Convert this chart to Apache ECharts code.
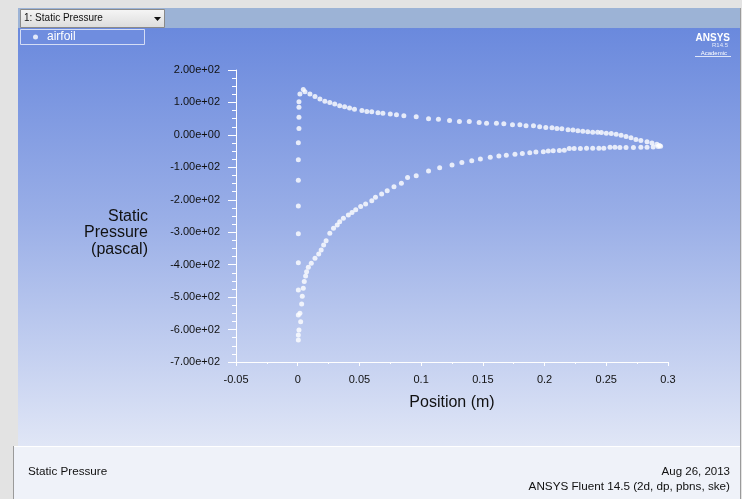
<!DOCTYPE html>
<html>
<head>
<meta charset="utf-8">
<title>Static Pressure</title>
<script src="https://cdn.jsdelivr.net/npm/echarts@6/dist/echarts.min.js"></script>
<style>
  html, body { margin: 0; padding: 0; background: #e6e6e6; }
  #chart { width: 742px; height: 499px; }
</style>
</head>
<body>
<div id="chart"></div>
<script>
// leading edge column (x ~ 0)
const nosePos = [0.001, 0.001, 0.001, 0.001, 0.0005, 0.0005, 0.0005, 0.0005, 0.0005, 0.0005, 0.0005, 0.0005, 0.0005]
const noseP = [102, 85, 54, 20, -24, -77, -140, -219, -305, -394, -478, -555, -632]

// upper branch, peak to trailing edge
const upperPos = [0.0018, 0.0045, 0.0059, 0.0099, 0.014, 0.018, 0.022, 0.026, 0.030, 0.034, 0.038, 0.042, 0.046, 0.052,
  0.056, 0.060, 0.065, 0.069, 0.075, 0.080, 0.086, 0.096, 0.106, 0.114, 0.123, 0.131, 0.139, 0.147, 0.153, 0.161,
  0.167, 0.174, 0.180, 0.185, 0.191, 0.196, 0.201, 0.206, 0.210, 0.214, 0.219, 0.223, 0.227, 0.231, 0.235, 0.239,
  0.243, 0.246, 0.250, 0.254, 0.258, 0.262, 0.266, 0.270, 0.274, 0.278, 0.283, 0.287, 0.291, 0.293, 0.294]
const upperP = [126, 140, 133, 126, 118, 111, 104, 100, 95, 90, 87, 83, 79, 75,
  72, 71, 68, 67, 64, 62, 59, 56, 50, 48, 44, 41, 41, 38, 36, 36,
  34, 31, 31, 28, 28, 25, 23, 22, 20, 19, 16, 15, 13, 11, 10, 8,
  8, 7, 5, 4, 2, -1, -5, -9, -14, -17, -21, -25, -29, -33, -35]

// lower branch, trailing edge back to the nose
const lowerPos = [0.292, 0.288, 0.283, 0.278, 0.272, 0.266, 0.261, 0.257, 0.253, 0.248, 0.244, 0.239, 0.234, 0.229,
  0.224, 0.220, 0.216, 0.212, 0.207, 0.203, 0.199, 0.193, 0.188, 0.182, 0.176, 0.169, 0.163, 0.156, 0.148, 0.141,
  0.133, 0.125, 0.115, 0.106, 0.096, 0.089, 0.084, 0.078, 0.0725, 0.068, 0.063, 0.060, 0.055, 0.051, 0.047, 0.044,
  0.041, 0.037, 0.034, 0.032, 0.029, 0.026, 0.023, 0.021, 0.019, 0.017, 0.014, 0.011, 0.0086, 0.0072, 0.0064,
  0.0053, 0.0045, 0.0037, 0.0032, 0.0018, 0.0024, 0.001, 0.0005]
const lowerP = [-36, -37, -38, -38, -39, -39, -39, -38, -38, -41, -41, -41, -41, -42,
  -42, -42, -47, -48, -49, -50, -52, -53, -55, -57, -60, -63, -65, -69, -74, -80,
  -85, -93, -101, -111, -126, -131, -149, -160, -172, -182, -192, -203, -213, -221, -231, -239,
  -247, -257, -268, -278, -288, -303, -326, -339, -355, -367, -380, -396, -408, -422, -435,
  -452, -473, -497, -521, -550, -576, -601, -617]

const xTicks = { min: -0.05, max: 0.3, step: 0.05 }
const yTicks = { min: -700, max: 200, step: 100 }

function zip(xs, ys) {
  return xs.map((x, i) => [x, ys[i]])
}

function sci(v) {
  return v.toExponential(2).replace(/e([+-])(\d)$/, (m, s, d) => "e" + s + "0" + d)
}

const chart = echarts.init(document.getElementById("chart"))
const font = "Liberation Sans"

chart.setOption({
  animation: false,
  textStyle: { fontFamily: font },
  graphic: [
    // window frame
    { type: "rect", silent: true, z: -100, shape: { x: 0, y: 0, width: 742, height: 499 }, style: { fill: "#e3e3e3" } },
    { type: "rect", silent: true, z: -99, shape: { x: 18, y: 8, width: 722, height: 20 }, style: { fill: "#9cb3d6" } },
    {
      type: "rect", silent: true, z: -99, shape: { x: 18, y: 28, width: 722, height: 418 },
      style: {
        fill: new echarts.graphic.LinearGradient(0, 0, 0, 1, [
          { offset: 0, color: "#6a89dd" },
          { offset: 0.45, color: "#99aee7" },
          { offset: 1, color: "#e0e6f6" }
        ])
      }
    },
    { type: "rect", silent: true, z: -99, shape: { x: 14, y: 446, width: 726, height: 53 }, style: { fill: "#eff2f9" } },
    { type: "line", silent: true, z: -98, shape: { x1: 14, y1: 446.5, x2: 740, y2: 446.5 }, style: { stroke: "#ffffff", lineWidth: 1 } },
    { type: "line", silent: true, z: -98, shape: { x1: 13.5, y1: 446, x2: 13.5, y2: 499 }, style: { stroke: "#9a9a9a", lineWidth: 1 } },
    { type: "line", silent: true, z: -98, shape: { x1: 740.5, y1: 8, x2: 740.5, y2: 499 }, style: { stroke: "#9a9a9a", lineWidth: 1 } },

    // dropdown
    {
      type: "rect", silent: true, z: -90, shape: { x: 20.5, y: 9.5, width: 144, height: 18 },
      style: {
        fill: new echarts.graphic.LinearGradient(0, 0, 0, 1, [
          { offset: 0, color: "#f6f6f6" },
          { offset: 1, color: "#dcdcdc" }
        ]),
        stroke: "#8a8a8a", lineWidth: 1
      }
    },
    { type: "text", silent: true, z: -89, style: { text: "1: Static Pressure", x: 24, y: 18.5, verticalAlign: "middle", font: "10px " + font, fill: "#111111" } },
    { type: "polygon", silent: true, z: -89, shape: { points: [[154, 17], [161, 17], [157.5, 21]] }, style: { fill: "#111111" } },

    // legend box
    { type: "rect", silent: true, z: -90, shape: { x: 20.5, y: 29.5, width: 124, height: 15 }, style: { fill: "#6f8ddf", stroke: "#d4ddf5", lineWidth: 1 } },

    // logo
    { type: "text", silent: true, z: -89, style: { text: "ANSYS", x: 730, y: 38, align: "right", verticalAlign: "middle", font: "bold 10px " + font, fill: "#ffffff" } },
    { type: "text", silent: true, z: -89, style: { text: "R14.5", x: 728, y: 45, align: "right", verticalAlign: "middle", font: "6px " + font, fill: "#e6ecfa" } },
    { type: "text", silent: true, z: -89, style: { text: "Academic", x: 727, y: 53, align: "right", verticalAlign: "middle", font: "6px " + font, fill: "#ffffff" } },
    { type: "line", silent: true, z: -89, shape: { x1: 695, y1: 56.5, x2: 731, y2: 56.5 }, style: { stroke: "#dfe6f8", lineWidth: 1 } },

    // y axis title
    { type: "text", silent: true, z: 5, style: { text: "Static\nPressure\n(pascal)", x: 148, y: 233, align: "right", verticalAlign: "middle", font: "16px " + font, lineHeight: 16.5, fill: "#111111" } },

    // footer
    { type: "text", silent: true, z: 5, style: { text: "Static Pressure", x: 28, y: 472, verticalAlign: "middle", font: "11.7px " + font, fill: "#111111" } },
    { type: "text", silent: true, z: 5, style: { text: "Aug 26, 2013", x: 730, y: 472, align: "right", verticalAlign: "middle", font: "11.5px " + font, fill: "#111111" } },
    { type: "text", silent: true, z: 5, style: { text: "ANSYS Fluent 14.5 (2d, dp, pbns, ske)", x: 730, y: 487, align: "right", verticalAlign: "middle", font: "11.7px " + font, fill: "#111111" } }
  ],
  legend: {
    left: 33,
    top: 31,
    padding: 0,
    icon: "circle",
    itemWidth: 5,
    itemHeight: 5,
    textStyle: { color: "#ffffff", fontSize: 12, fontFamily: font, padding: [0, 0, 0, 4] },
    data: ["airfoil"]
  },
  grid: { left: 236, right: 74, top: 70, bottom: 137 },
  xAxis: {
    type: "value",
    min: xTicks.min,
    max: xTicks.max,
    interval: xTicks.step,
    name: "Position (m)",
    nameLocation: "middle",
    nameGap: 33,
    nameTextStyle: { color: "#111111", fontSize: 16, fontFamily: font },
    axisLine: { show: true, onZero: false, lineStyle: { color: "#ffffff", width: 1 } },
    axisTick: { show: true, length: 4, lineStyle: { color: "#ffffff" } },
    minorTick: { show: true, splitNumber: 2, length: 2, lineStyle: { color: "#ffffff" } },
    axisLabel: { color: "#111111", fontSize: 11, fontFamily: font, margin: 12 },
    splitLine: { show: false }
  },
  yAxis: {
    type: "value",
    min: yTicks.min,
    max: yTicks.max,
    interval: yTicks.step,
    axisLine: { show: true, onZero: false, lineStyle: { color: "#ffffff", width: 1 } },
    axisTick: { show: true, length: 8, lineStyle: { color: "#ffffff" } },
    minorTick: { show: true, splitNumber: 4, length: 4, lineStyle: { color: "#ffffff" } },
    axisLabel: { color: "#111111", fontSize: 11, fontFamily: font, margin: 16, formatter: sci },
    splitLine: { show: false }
  },
  series: [
    {
      name: "airfoil",
      type: "scatter",
      symbol: "circle",
      symbolSize: 5,
      itemStyle: { color: "#ffffff" },
      data: zip(nosePos, noseP).concat(zip(upperPos, upperP), zip(lowerPos, lowerP))
    }
  ]
})
</script>
</body>
</html>
